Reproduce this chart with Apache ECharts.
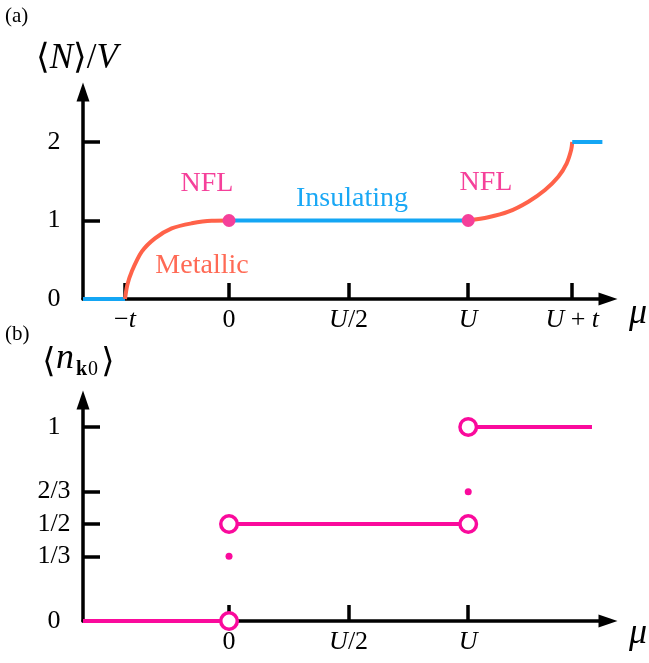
<!DOCTYPE html>
<html>
<head>
<meta charset="utf-8">
<script src="https://cdn.jsdelivr.net/npm/echarts@6.0.0/dist/echarts.min.js"></script>
<style>
html,body{margin:0;padding:0;background:#fff;}
#chart{width:649px;height:663px;}
</style>
</head>
<body>
<div id="chart"></div>
<script>
// ---------- data ----------
// units: t = 1, U = 2.3
const xTickValsA = [-1, 0, 1.15, 2.3, 3.3];
const xTickTextA = ['−{i|t}', '0', '{i|U}/2', '{i|U}', '{i|U} + {i|t}'];
const xTickValsB = [0, 1.15, 2.3];
const xTickTextB = ['0', '{i|U}/2', '{i|U}'];
const yTickValsA = [0, 1, 2];
const yTickTextA = ['0', '1', '2'];
const yTickValsB = [0, 1/3, 1/2, 2/3, 1];
const yTickTextB = ['0', '1/3', '1/2', '2/3', '1'];

// panel (a): <N>/V
const emptyBand = [[-1.404, 0], [-1, 0]];
const metallicLow = [[-1, 0], [-0.978, 0.178], [-0.936, 0.348], [-0.839, 0.603], [-0.712, 0.773],
                     [-0.551, 0.90], [-0.359, 0.964], [-0.166, 0.997], [0, 1]];
const insulating = [[0, 1], [2.3, 1]];
const metallicHigh = [[2.3, 1], [2.493, 1.041], [2.686, 1.112], [2.878, 1.24], [3.038, 1.389],
                      [3.166, 1.558], [3.247, 1.729], [3.29, 1.9], [3.3, 2]];
const fullBand = [[3.3, 2], [3.59, 2]];
const nflPoints = [[0, 1], [2.3, 1]];

// panel (b): <n_k0>
const nZero = [[-1.404, 0], [0, 0]];
const nHalf = [[0, 0.5], [2.3, 0.5]];
const nOne = [[2.3, 1], [3.49, 1]];
const openPoints = [[0, 0], [0, 0.5], [2.3, 0.5], [2.3, 1]];
const filledPoints = [[0, 1/3], [2.3, 2/3]];

// ---------- style ----------
const FONT = '"Liberation Serif", "DejaVu Serif", serif';
const BLUE = '#14A6F4';
const RED = '#FF6249';
const PINK = '#F5409A';
const MAG = '#FA0A9C';
const TICKFS = 26;

function lookup(vals, texts) {
  return function (v) {
    for (let i = 0; i < vals.length; i++) if (Math.abs(vals[i] - v) < 1e-6) return texts[i];
    return '';
  };
}
const richI = { i: { fontFamily: FONT, fontStyle: 'italic', fontSize: TICKFS, color: '#000' } };

function xAxisCfg(grid, vals, texts) {
  return {
    type: 'value', gridIndex: grid, min: -1.404, max: 3.644,
    axisLine: { show: true, onZero: false, symbol: ['none', 'triangle'], symbolSize: [13, 19],
                lineStyle: { color: '#000', width: 3.5 } },
    axisTick: { show: true, inside: true, length: 16, customValues: vals,
                lineStyle: { color: '#000', width: 3.5 } },
    axisLabel: { show: true, customValues: vals, formatter: lookup(vals, texts), margin: 8,
                 fontFamily: FONT, fontSize: TICKFS, color: '#000', rich: richI },
    splitLine: { show: false }
  };
}
function yAxisCfg(grid, max, vals, texts) {
  return {
    type: 'value', gridIndex: grid, min: 0, max: max,
    axisLine: { show: true, onZero: false, symbol: ['none', 'triangle'], symbolSize: [13, 19],
                lineStyle: { color: '#000', width: 3.5 } },
    axisTick: { show: true, inside: true, length: 17, customValues: vals,
                lineStyle: { color: '#000', width: 3.5 } },
    axisLabel: { show: true, customValues: vals, formatter: lookup(vals, texts), margin: 29,
                 align: 'center', fontFamily: FONT, fontSize: TICKFS, color: '#000' },
    splitLine: { show: false }
  };
}
function lineS(data, color, xi, smooth) {
  return { type: 'line', xAxisIndex: xi, yAxisIndex: xi, data: data, symbol: 'none',
           smooth: smooth ? 0.3 : false,
           lineStyle: { color: color, width: 4 }, z: 3, silent: true };
}
function txt(x, y, s, font, fill, align) {
  return { type: 'text', x: x, y: y, style: { text: s, font: font, fill: fill || '#000',
           align: align || 'center', verticalAlign: 'middle' } };
}

const chart = echarts.init(document.getElementById('chart'), null, { renderer: 'canvas' });
chart.setOption({
  animation: false,
  backgroundColor: '#fff',
  grid: [
    { left: 83, top: 92, width: 525, height: 207 },
    { left: 83, top: 400, width: 525, height: 221 }
  ],
  xAxis: [xAxisCfg(0, xTickValsA, xTickTextA), xAxisCfg(1, xTickValsB, xTickTextB)],
  yAxis: [yAxisCfg(0, 2.637, yTickValsA, yTickTextA), yAxisCfg(1, 1.139, yTickValsB, yTickTextB)],
  series: [
    lineS(emptyBand, BLUE, 0, false),
    lineS(metallicLow, RED, 0, true),
    lineS(insulating, BLUE, 0, false),
    lineS(metallicHigh, RED, 0, true),
    lineS(fullBand, BLUE, 0, false),
    { type: 'scatter', xAxisIndex: 0, yAxisIndex: 0, data: nflPoints, symbol: 'circle', symbolSize: 13,
      itemStyle: { color: PINK, opacity: 1 }, z: 5, silent: true },
    lineS(nZero, MAG, 1, false),
    lineS(nHalf, MAG, 1, false),
    lineS(nOne, MAG, 1, false),
    { type: 'scatter', xAxisIndex: 1, yAxisIndex: 1, data: openPoints, symbol: 'circle', symbolSize: 16.5,
      itemStyle: { color: '#fff', borderColor: MAG, borderWidth: 3.5, opacity: 1 }, z: 5, silent: true },
    { type: 'scatter', xAxisIndex: 1, yAxisIndex: 1, data: filledPoints, symbol: 'circle', symbolSize: 7,
      itemStyle: { color: MAG, opacity: 1 }, z: 5, silent: true }
  ],
  graphic: [
    { type: 'text', left: 5, top: 6, style: { text: '(a)', font: '21px ' + FONT, fill: '#000' } },
    { type: 'text', left: 5, top: 324, style: { text: '(b)', font: '21px ' + FONT, fill: '#000' } },
    { type: 'text', x: 77, y: 59, style: {
        text: '{u|⟨}{i|N}{u|⟩/}{i|V}', align: 'center', verticalAlign: 'middle',
        rich: { u: { fontFamily: FONT, fontSize: 35, fill: '#000' },
                i: { fontFamily: FONT, fontStyle: 'italic', fontSize: 35, fill: '#000' } } } },
    txt(49, 363, '⟨', '34px ' + FONT),
    txt(56, 359, 'n', 'italic 36px ' + FONT, '#000', 'left'),
    txt(76, 370, 'k', 'bold 20px ' + FONT, '#000', 'left'),
    txt(88, 370, '0', '20px ' + FONT, '#000', 'left'),
    txt(108, 363, '⟩', '34px ' + FONT),
    txt(638, 314, 'μ', 'italic 36px ' + FONT),
    txt(638, 634, 'μ', 'italic 36px ' + FONT),
    txt(207, 184, 'NFL', '28px ' + FONT, PINK),
    txt(486, 183, 'NFL', '28px ' + FONT, PINK),
    txt(352, 199, 'Insulating', '28px ' + FONT, '#1AA8F5'),
    txt(202, 266, 'Metallic', '28px ' + FONT, '#FF6A55')
  ]
});
</script>
</body>
</html>
